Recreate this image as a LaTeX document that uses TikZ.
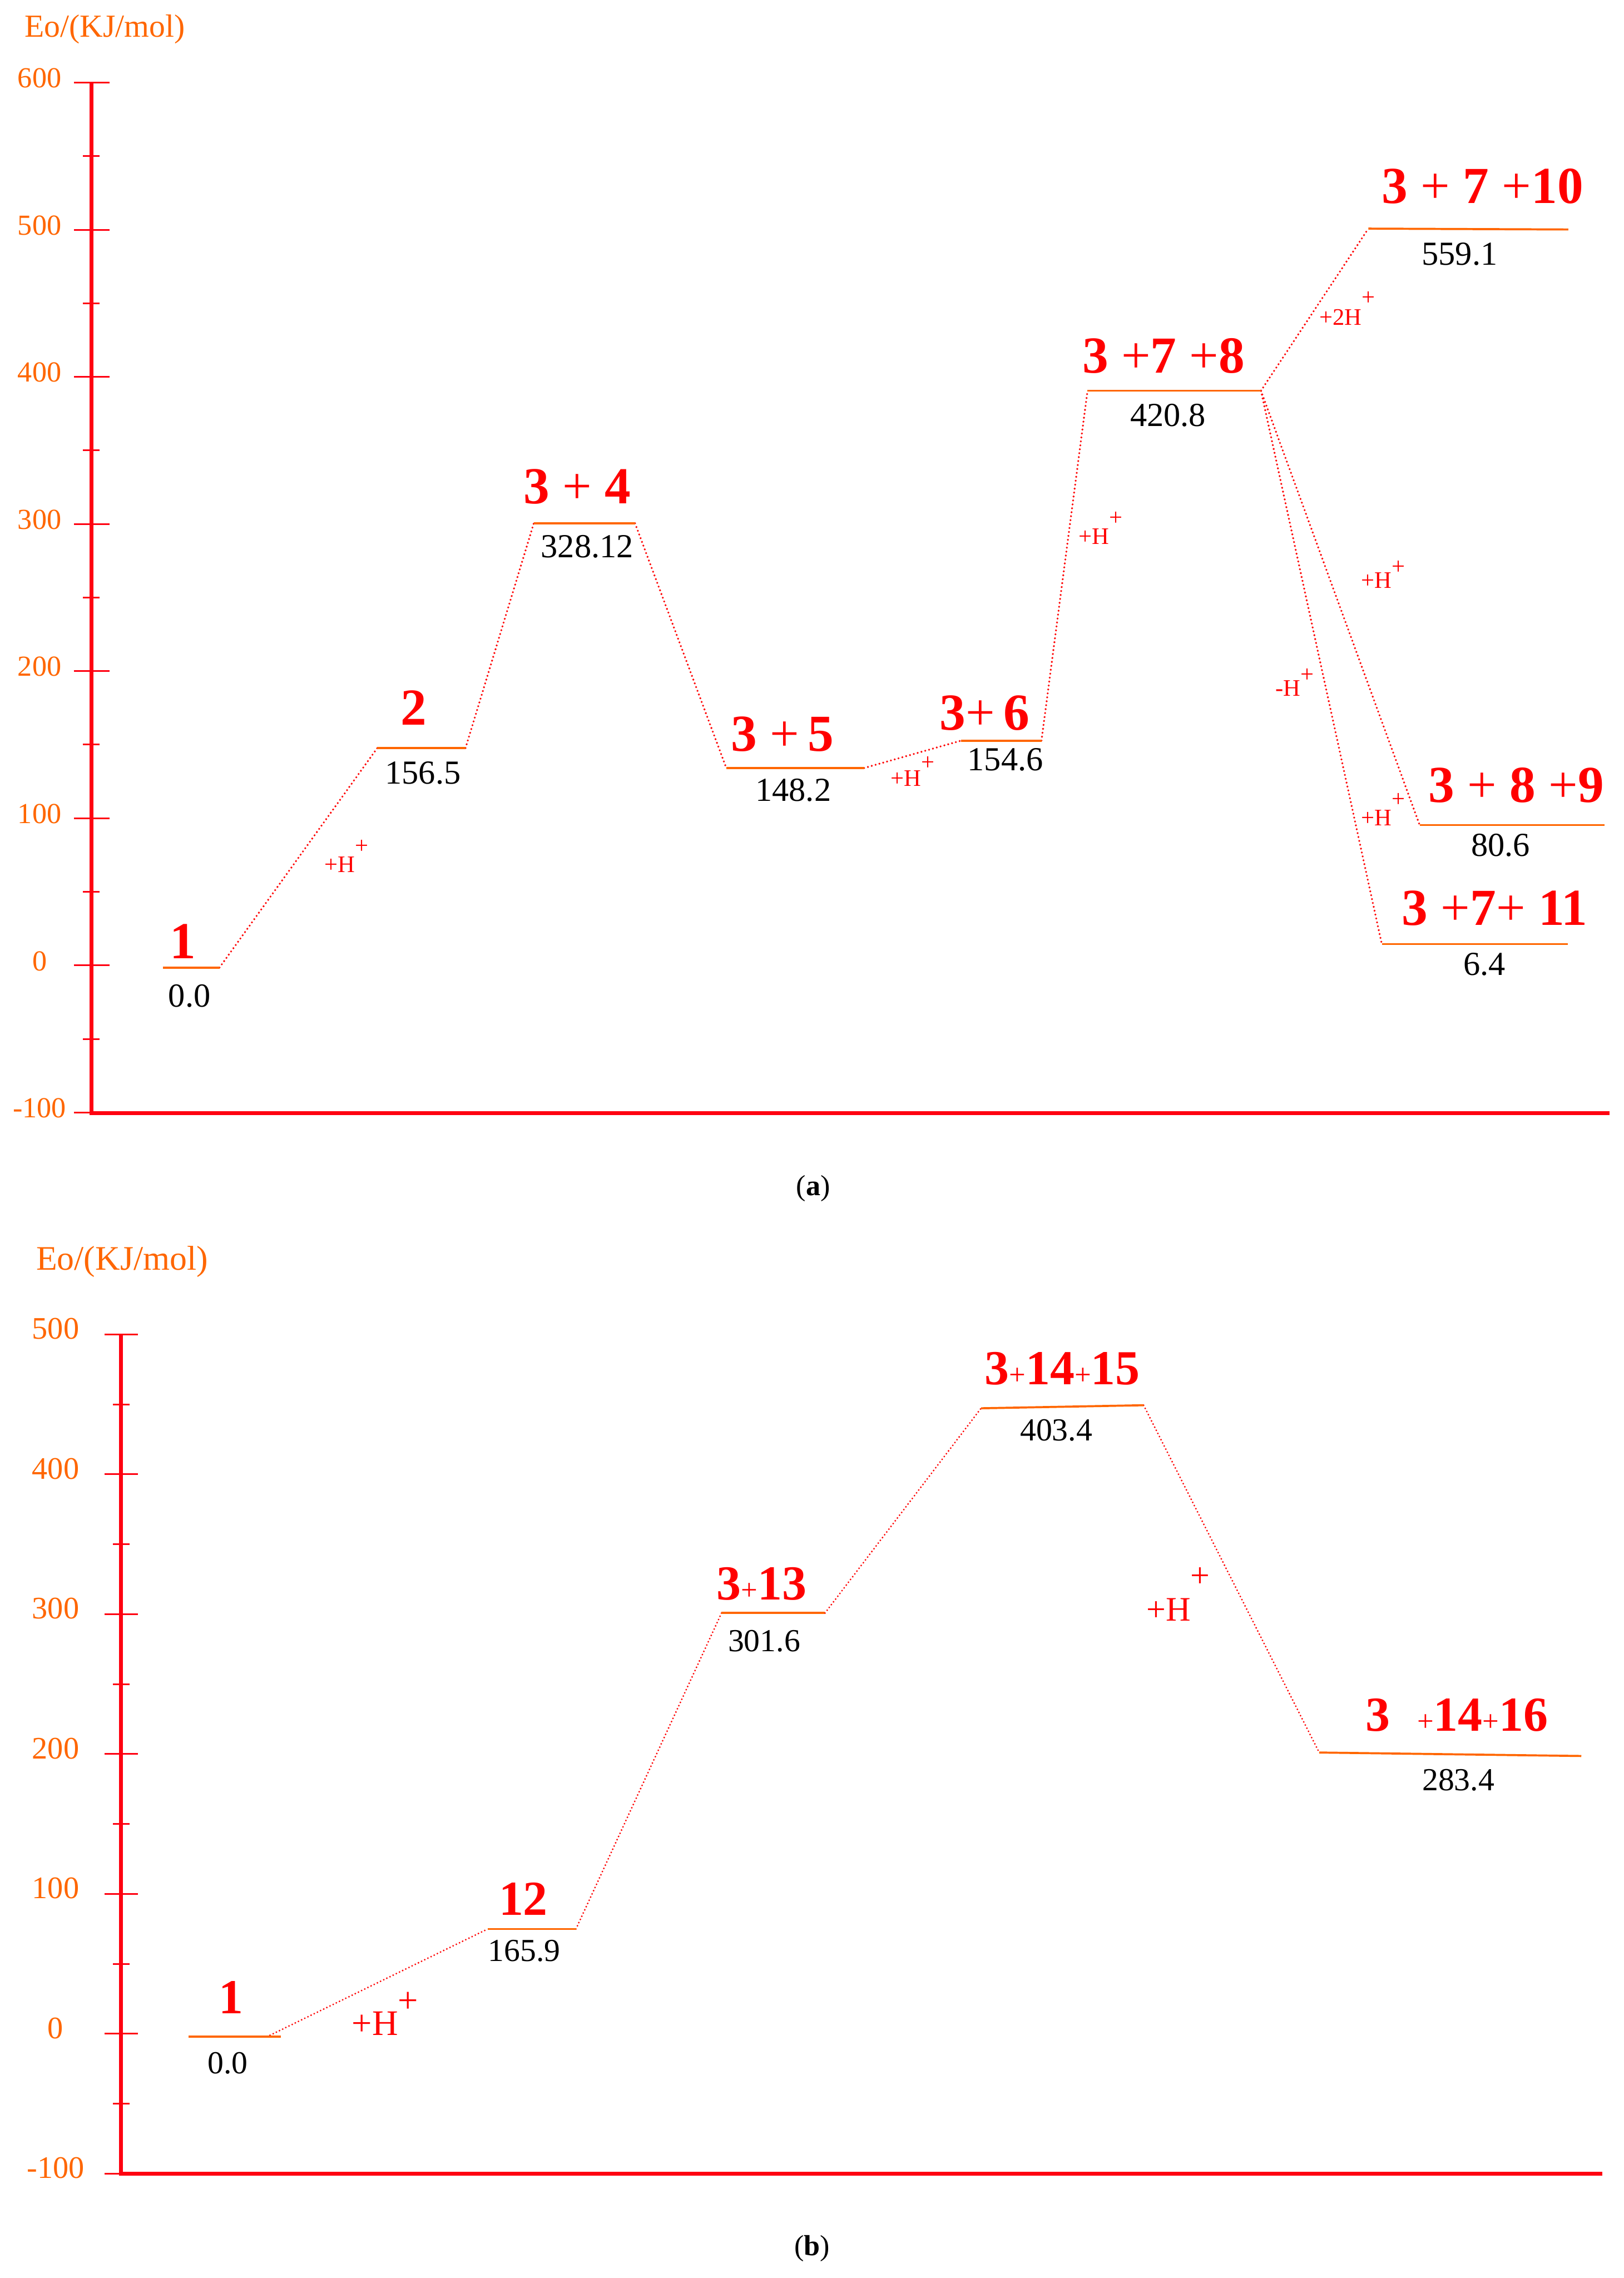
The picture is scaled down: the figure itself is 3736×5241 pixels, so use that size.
\documentclass[tikz,border=0pt]{standalone}
\usepackage{fontspec}
\setmainfont{Liberation Serif}
\usepackage{graphicx}

\definecolor{axisred}{RGB}{255,0,16}
\definecolor{lvlorange}{RGB}{255,102,0}
\definecolor{lblred}{RGB}{255,0,0}

\newcommand{\pl}{{\mdseries+}}                 % plain plus between bold numbers
\newcommand{\pls}{{\mdseries\scalebox{0.6}{+}}} % small plus, panel (b)
\newcommand{\hion}[2]{#1H\raisebox{#2}{+}}      % proton label with raised charge

\begin{document}
\begin{tikzpicture}[
    x=0.1mm, y=-0.1mm,                      % 1 unit = 1 px of the scan, y grows downwards
    axis/.style={draw=axisred, line width=2.6pt, line join=miter},
    major/.style={draw=axisred, line width=1.1pt},
    minor/.style={draw=axisred, line width=1.1pt},
    level/.style={draw=lvlorange, line width=1.35pt},
    link/.style={draw=lblred, line width=1.4pt, line cap=round, dash pattern=on 0pt off 2.6pt},
    ttl/.style={font=\fontsize{21}{25}\selectfont, text=lvlorange, inner sep=0pt},
    ticklbl/.style={font=\fontsize{19}{23}\selectfont, text=lvlorange, inner sep=0pt},
    species/.style={font=\fontsize{34}{40}\selectfont\bfseries, text=lblred, anchor=base, inner sep=0pt},
    energy/.style={font=\fontsize{22}{26}\selectfont, anchor=base, inner sep=0pt},
    ion/.style={font=\fontsize{15.5}{18}\selectfont, text=lblred, anchor=base west, inner sep=0pt},
    caption/.style={font=\fontsize{19}{23}\selectfont, inner sep=0pt},
  ]

  \useasboundingbox (0,0) rectangle (3736,5241);

  % ================= panel (a) =================

  % ---------- axes ----------
  \node[ttl] (a-ttl) at (241,67) {Eo/(KJ/mol)};
  \draw[axis] (210,190) -- (210,2561) -- (3703,2561);
  \foreach \v in {600,500,...,-100}{%
    \draw[major] (170,{2221-3.385*\v}) -- (252,{2221-3.385*\v});
    \node[ticklbl] (ta\v) at (91,{2211-3.385*\v}) {\v};
  }
  \foreach \v in {550,450,...,-50}
    \draw[minor] (191,{2221-3.385*\v}) -- (229,{2221-3.385*\v});

  % ---------- level ends ----------
  \coordinate (a1-l)    at (375,2226);   \coordinate (a1-r)    at (505,2226);
  \coordinate (a2-l)    at (868,1721);   \coordinate (a2-r)    at (1071,1721);
  \coordinate (a34-l)   at (1228,1204);  \coordinate (a34-r)   at (1461,1204);
  \coordinate (a35-l)   at (1671,1767);  \coordinate (a35-r)   at (1988,1767);
  \coordinate (a36-l)   at (2211,1704);  \coordinate (a36-r)   at (2396,1704);
  \coordinate (a378-l)  at (2502,899);   \coordinate (a378-r)  at (2901,899);
  \coordinate (a3710-l) at (3148,526);   \coordinate (a3710-r) at (3608,528);
  \coordinate (a389-l)  at (3266,1898);  \coordinate (a389-r)  at (3691,1898);
  \coordinate (a3711-l) at (3179,2172);  \coordinate (a3711-r) at (3607,2172);

  % ---------- connectors ----------
  \draw[link] (a1-r) -- (a2-l);
  \draw[link] (a2-r) -- (a34-l);
  \draw[link] (a34-r) -- (a35-l);
  \draw[link] (a35-r) -- (a36-l);
  \draw[link] (a36-r) -- (a378-l);
  \draw[link] (a378-r) -- (a3710-l);
  \draw[link] (a378-r) -- (a389-l);
  \draw[link] (a378-r) -- (a3711-l);

  \node[ion] (a-h1) at (746,2007)  {\hion{+}{.8em}};
  \node[ion] (a-h2) at (2049,1808) {\hion{+}{.67em}};
  \node[ion] (a-h3) at (2481,1252) {\hion{+}{.8em}};
  \node[ion] (a-h4) at (3035,748)  {\hion{+2}{.85em}};
  \node[ion] (a-h5) at (3131,1353) {\hion{+}{.58em}};
  \node[ion] (a-h6) at (2934,1601) {\hion{-}{.58em}};
  \node[ion] (a-h7) at (3131,1900) {\hion{+}{.8em}};

  % ---------- levels (on top of connectors) ----------
  \foreach \n in {a1,a2,a34,a35,a36,a378,a3710,a389,a3711}
    \draw[level] (\n-l) -- (\n-r);

  % ---------- species and energies ----------
  \node[species] (a1-name)    at (421,2205)  {1};
  \node[species] (a2-name)    at (952,1668)  {2};
  \node[species] (a34-name)   at (1328,1158) {3 \pl\ 4};
  \node[species] (a35-name)   at (1800,1728) {3 \pl\,5};
  \node[species] (a36-name)   at (2265,1680) {3\pl\,6};
  \node[species] (a378-name)  at (2677,858)  {3 \pl7 \pl8};
  \node[species] (a3710-name) at (3411,468)  {3 \pl\ 7 \pl10};
  \node[species] (a389-name)  at (3488,1846) {3 \pl\ 8 \pl9};
  \node[species] (a3711-name) at (3439,2128) {3 \pl7\pl\ 11};

  \node[energy] (a1-val)    at (436,2316)  {0.0};
  \node[energy] (a2-val)    at (973,1803)  {156.5};
  \node[energy] (a34-val)   at (1351,1283) {328.12};
  \node[energy] (a35-val)   at (1825,1843) {148.2};
  \node[energy] (a36-val)   at (2313,1773) {154.6};
  \node[energy] (a378-val)  at (2687,981)  {420.8};
  \node[energy] (a3710-val) at (3358,610)  {559.1};
  \node[energy] (a389-val)  at (3452,1970) {80.6};
  \node[energy] (a3711-val) at (3415,2244) {6.4};

  \node[caption] (a-cap) at (1871,2734) {(\textbf{a})};

  % ================= panel (b) =================

  % ---------- axes ----------
  \node[ttl, font=\fontsize{22.5}{26}\selectfont] (b-ttl) at (281,2903) {Eo/(KJ/mol)};
  \draw[axis] (278,3070) -- (278,5001) -- (3686,5001);
  \foreach \v in {500,400,...,-100}{%
    \draw[major] (241,{4679-3.218*\v}) -- (317,{4679-3.218*\v});
    \node[ticklbl, font=\fontsize{20.5}{24}\selectfont] (tb\v) at (128,{4666-3.218*\v}) {\v};
  }
  \foreach \v in {450,350,...,-50}
    \draw[minor] (260,{4679-3.218*\v}) -- (298,{4679-3.218*\v});

  % ---------- level ends ----------
  \coordinate (b1-l)     at (434,4686);   \coordinate (b1-r)     at (646,4686);
  \coordinate (b1-j)     at (614,4686);   % connector leaves the level a bit inside
  \coordinate (b12-l)    at (1122,4438);  \coordinate (b12-r)    at (1325,4438);
  \coordinate (b313-l)   at (1660,3711);  \coordinate (b313-r)   at (1898,3711);
  \coordinate (b31415-l) at (2257,3240);  \coordinate (b31415-r) at (2631,3233);
  \coordinate (b31416-l) at (3035,4032);  \coordinate (b31416-r) at (3638,4040);

  % ---------- connectors ----------
  \draw[link, line width=1.2pt, dash pattern=on 0pt off 2.3pt] (b1-j) -- (b12-l);
  \draw[link, line width=1.2pt, dash pattern=on 0pt off 2.3pt] (b12-r) -- (b313-l);
  \draw[link, line width=1.2pt, dash pattern=on 0pt off 2.3pt] (b313-r) -- (b31415-l);
  \draw[link, line width=1.2pt, dash pattern=on 0pt off 2.3pt] (b31415-r) -- (b31416-l);

  \node[ion, font=\fontsize{23.5}{28}\selectfont] (b-h1) at (809,4682)  {\hion{+}{.63em}};
  \node[ion, font=\fontsize{22.5}{27}\selectfont] (b-h2) at (2637,3729) {\hion{+}{.98em}};

  % ---------- levels ----------
  \foreach \n in {b1,b12,b313,b31415,b31416}
    \draw[level] (\n-l) -- (\n-r);

  % ---------- species and energies ----------
  \node[species, font=\fontsize{32}{38}\selectfont\bfseries] (b1-name)     at (531,4633)  {1};
  \node[species, font=\fontsize{32}{38}\selectfont\bfseries] (b12-name)    at (1204,4406) {12};
  \node[species, font=\fontsize{32}{38}\selectfont\bfseries] (b313-name)   at (1752,3680) {3\pls13};
  \node[species, font=\fontsize{32}{38}\selectfont\bfseries] (b31415-name) at (2444,3186) {3\pls14\pls15};
  \node[species, font=\fontsize{32}{38}\selectfont\bfseries] (b31416-name) at (3352,3982) {3\hspace{0.55em}\pls14\pls16};

  \node[energy, font=\fontsize{21}{25}\selectfont] (b1-val)     at (524,4771)  {0.0};
  \node[energy, font=\fontsize{21}{25}\selectfont] (b12-val)    at (1206,4512) {165.9};
  \node[energy, font=\fontsize{21}{25}\selectfont] (b313-val)   at (1758,3800) {301.6};
  \node[energy, font=\fontsize{21}{25}\selectfont] (b31415-val) at (2430,3315) {403.4};
  \node[energy, font=\fontsize{21}{25}\selectfont] (b31416-val) at (3355,4119) {283.4};

  \node[caption] (b-cap) at (1868,5173) {(\textbf{b})};

\end{tikzpicture}
\end{document}
